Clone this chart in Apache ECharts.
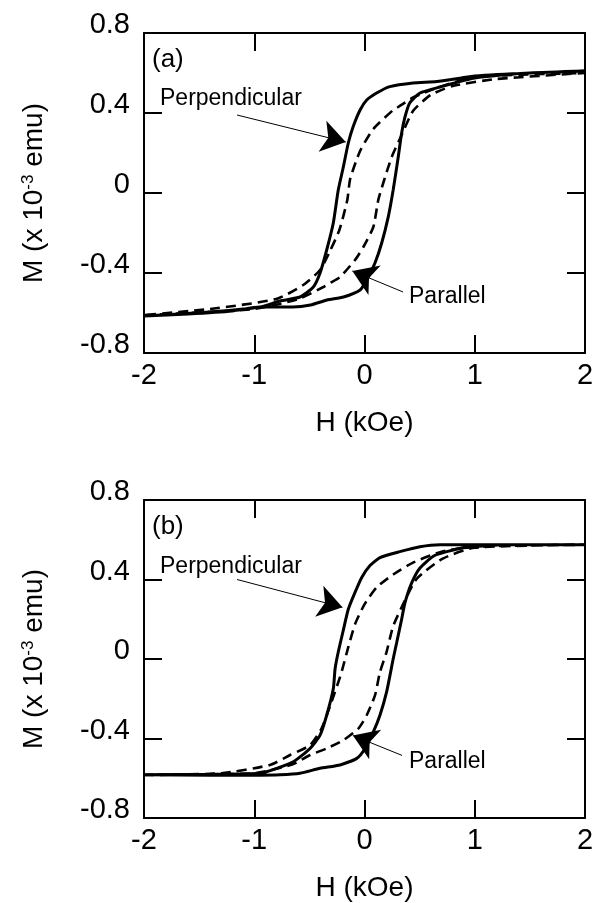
<!DOCTYPE html>
<html>
<head>
<meta charset="utf-8">
<script src="https://cdn.jsdelivr.net/npm/echarts@6/dist/echarts.min.js"></script>
<style>
  html, body { margin: 0; padding: 0; background: #fff; }
  #chart { width: 602px; height: 903px; }
</style>
</head>
<body>
<div id="chart"></div>
<script>
// ── axes ──
const xTicks = [-2, -1, 0, 1, 2];
const yTicks = [-0.8, -0.4, 0, 0.4, 0.8];

// ── panel (a): perpendicular (solid) ──
const perpA_upH = [-2, -1.6, -1.2, -0.95, -0.65, -0.49, -0.34, -0.19, -0.04, 0.02, 0.095, 0.156, 0.216, 0.26, 0.306, 0.337, 0.367, 0.41, 0.503, 0.685, 1.0, 1.5, 2.0];
const perpA_upM = [-0.615, -0.605, -0.59, -0.57, -0.57, -0.56, -0.535, -0.52, -0.485, -0.435, -0.35, -0.25, -0.118, 0.015, 0.18, 0.30, 0.38, 0.45, 0.50, 0.53, 0.575, 0.60, 0.61];
const perpA_dnH = [2.0, 1.5, 1.0, 0.866, 0.655, 0.44, 0.23, 0.11, 0.02, -0.04, -0.104, -0.147, -0.192, -0.238, -0.283, -0.343, -0.403, -0.464, -0.585, -0.766, -0.947, -1.4, -2.0];
const perpA_dnM = [0.61, 0.60, 0.585, 0.574, 0.557, 0.55, 0.532, 0.50, 0.465, 0.415, 0.33, 0.25, 0.13, 0.015, -0.15, -0.285, -0.40, -0.47, -0.52, -0.54, -0.57, -0.595, -0.615];

// ── panel (a): parallel (dashed) ──
const paraA_upH = [-2.0, -1.0, -0.6, -0.373, -0.313, -0.222, -0.086, -0.01, 0.08, 0.125, 0.17, 0.247, 0.337, 0.44, 0.6, 0.8, 1.2, 2.0];
const paraA_upM = [-0.61, -0.58, -0.53, -0.47, -0.45, -0.42, -0.335, -0.27, -0.17, -0.035, 0.05, 0.18, 0.29, 0.41, 0.49, 0.535, 0.57, 0.60];
const paraA_dnH = [2.0, 1.0, 0.68, 0.45, 0.306, 0.26, 0.08, -0.04, -0.13, -0.156, -0.228, -0.313, -0.403, -0.555, -0.8, -1.4, -2.0];
const paraA_dnM = [0.60, 0.58, 0.53, 0.48, 0.43, 0.415, 0.32, 0.21, 0.07, -0.035, -0.185, -0.29, -0.385, -0.46, -0.53, -0.58, -0.61];

// ── panel (b): perpendicular (solid) ──
const perpB_upH = [-2.0, -1.4, -0.95, -0.766, -0.585, -0.403, -0.222, -0.07, 0.005, 0.08, 0.14, 0.20, 0.26, 0.292, 0.337, 0.367, 0.428, 0.503, 0.624, 0.745, 0.9, 1.3, 2.0];
const perpB_upM = [-0.583, -0.585, -0.585, -0.583, -0.575, -0.55, -0.533, -0.50, -0.45, -0.367, -0.283, -0.167, 0.0, 0.083, 0.20, 0.283, 0.383, 0.458, 0.517, 0.54, 0.56, 0.575, 0.575];
const perpB_dnH = [2.0, 1.3, 0.866, 0.685, 0.503, 0.32, 0.14, 0.05, -0.025, -0.086, -0.147, -0.19, -0.238, -0.267, -0.283, -0.343, -0.403, -0.494, -0.645, -0.796, -0.947, -1.4, -2.0];
const perpB_dnM = [0.575, 0.575, 0.575, 0.575, 0.565, 0.54, 0.51, 0.47, 0.41, 0.335, 0.25, 0.15, 0.035, -0.05, -0.15, -0.283, -0.383, -0.45, -0.517, -0.55, -0.575, -0.58, -0.583];

// ── panel (b): parallel (dashed) ──
const paraB_upH = [-2.0, -1.0, -0.65, -0.494, -0.343, -0.19, -0.056, 0.02, 0.095, 0.14, 0.2, 0.26, 0.367, 0.475, 0.71, 1.0, 2.0];
const paraB_upM = [-0.583, -0.575, -0.53, -0.483, -0.45, -0.408, -0.35, -0.283, -0.183, -0.067, 0.035, 0.165, 0.295, 0.405, 0.505, 0.56, 0.575];
const paraB_dnH = [2.0, 1.0, 0.7, 0.44, 0.26, 0.11, 0.0, -0.086, -0.147, -0.213, -0.30, -0.39, -0.494, -0.675, -0.857, -1.3, -2.0];
const paraB_dnM = [0.575, 0.565, 0.54, 0.485, 0.425, 0.36, 0.275, 0.175, 0.06, -0.075, -0.217, -0.35, -0.433, -0.483, -0.533, -0.575, -0.583];

// ── annotation arrows [startH, startM, tipH, tipM] ──
const arrowPerpA = [-1.156, 0.39, -0.17, 0.255];
const arrowParaA = [0.35, -0.495, -0.11, -0.39];
const arrowPerpB = [-1.156, 0.40, -0.20, 0.26];
const arrowParaB = [0.34, -0.485, -0.105, -0.385];

const FONT = "'Liberation Sans', Arial, sans-serif";

function loop(upH, upM, dnH, dnM) {
  const pts = upH.map((h, i) => [h, upM[i]]);
  return pts.concat(dnH.map((h, i) => [h, dnM[i]]));
}

const grids = [
  { left: 144, top: 33, width: 441, height: 320 },
  { left: 144, top: 500, width: 441, height: 320 },
];

const AX_LINE = { onZero: false, lineStyle: { color: '#000', width: 2 } };
const AX_TICK = { inside: true, length: 18, lineStyle: { color: '#000', width: 2 } };

const xAxes = [], yAxes = [];
grids.forEach((g, gi) => {
  // bottom / left: labelled
  xAxes.push({
    gridIndex: gi, type: 'value', min: -2, max: 2, interval: 1, position: 'bottom',
    axisLine: AX_LINE, axisTick: AX_TICK,
    axisLabel: { color: '#000', fontSize: 29, fontFamily: FONT, margin: 8 },
    splitLine: { show: false },
    name: 'H (kOe)', nameLocation: 'middle', nameGap: 56,
    nameTextStyle: { color: '#000', fontSize: 28, fontFamily: FONT },
  });
  // top: ticks only
  xAxes.push({
    gridIndex: gi, type: 'value', min: -2, max: 2, interval: 1, position: 'top',
    axisLine: AX_LINE, axisTick: AX_TICK,
    axisLabel: { show: false }, splitLine: { show: false },
  });
  yAxes.push({
    gridIndex: gi, type: 'value', min: -0.8, max: 0.8, interval: 0.4, position: 'left',
    axisLine: AX_LINE, axisTick: AX_TICK,
    axisLabel: {
      color: '#000', fontSize: 29, fontFamily: FONT, margin: 14,
      verticalAlign: 'bottom', lineHeight: 16,
      formatter: v => String(Math.round(v * 10) / 10),
    },
    splitLine: { show: false },
    name: '{a|M (x 10}{s|-3}{a| emu)}', nameLocation: 'middle', nameGap: 96,
    nameTextStyle: {
      rich: {
        a: { color: '#000', fontSize: 28, fontFamily: FONT },
        s: { color: '#000', fontSize: 17, fontFamily: FONT, verticalAlign: 'top' },
      },
    },
  });
  yAxes.push({
    gridIndex: gi, type: 'value', min: -0.8, max: 0.8, interval: 0.4, position: 'right',
    axisLine: AX_LINE, axisTick: AX_TICK,
    axisLabel: { show: false }, splitLine: { show: false },
  });
});

function arrow(a) {
  return [{ coord: [a[0], a[1]] }, { coord: [a[2], a[3]] }];
}

function loopSeries(gi, data, dashed, arrowA) {
  return {
    type: 'line', xAxisIndex: gi * 2, yAxisIndex: gi * 2, data,
    showSymbol: false, smooth: 0.2, silent: true,
    lineStyle: { color: '#000', width: dashed ? 2.6 : 3, type: dashed ? [10, 6] : 'solid' },
    markLine: {
      silent: true, symbol: ['none', 'arrow'], symbolSize: 24,
      label: { show: false },
      itemStyle: { color: '#000' },
      lineStyle: { color: '#000', width: 1, type: 'solid' },
      data: [arrow(arrowA)],
    },
  };
}

const series = [
  loopSeries(0, loop(perpA_upH, perpA_upM, perpA_dnH, perpA_dnM), false, arrowPerpA),
  loopSeries(0, loop(paraA_upH, paraA_upM, paraA_dnH, paraA_dnM), true, arrowParaA),
  loopSeries(1, loop(perpB_upH, perpB_upM, perpB_dnH, perpB_dnM), false, arrowPerpB),
  loopSeries(1, loop(paraB_upH, paraB_upM, paraB_dnH, paraB_dnM), true, arrowParaB),
];

const chart = echarts.init(document.getElementById('chart'));
chart.setOption({
  animation: false,
  backgroundColor: '#fff',
  grid: grids,
  xAxis: xAxes,
  yAxis: yAxes,
  series,
  graphic: [
    { type: 'text', x: 152, y: 60, style: { text: '(a)', fill: '#000', font: '26px ' + FONT, verticalAlign: 'middle' } },
    { type: 'text', x: 160, y: 99, style: { text: 'Perpendicular', fill: '#000', font: '23px ' + FONT, verticalAlign: 'middle' } },
    { type: 'text', x: 409, y: 297, style: { text: 'Parallel', fill: '#000', font: '23px ' + FONT, verticalAlign: 'middle' } },
    { type: 'text', x: 152, y: 527, style: { text: '(b)', fill: '#000', font: '26px ' + FONT, verticalAlign: 'middle' } },
    { type: 'text', x: 160, y: 567, style: { text: 'Perpendicular', fill: '#000', font: '23px ' + FONT, verticalAlign: 'middle' } },
    { type: 'text', x: 409, y: 762, style: { text: 'Parallel', fill: '#000', font: '23px ' + FONT, verticalAlign: 'middle' } },
  ],
});
</script>
</body>
</html>
